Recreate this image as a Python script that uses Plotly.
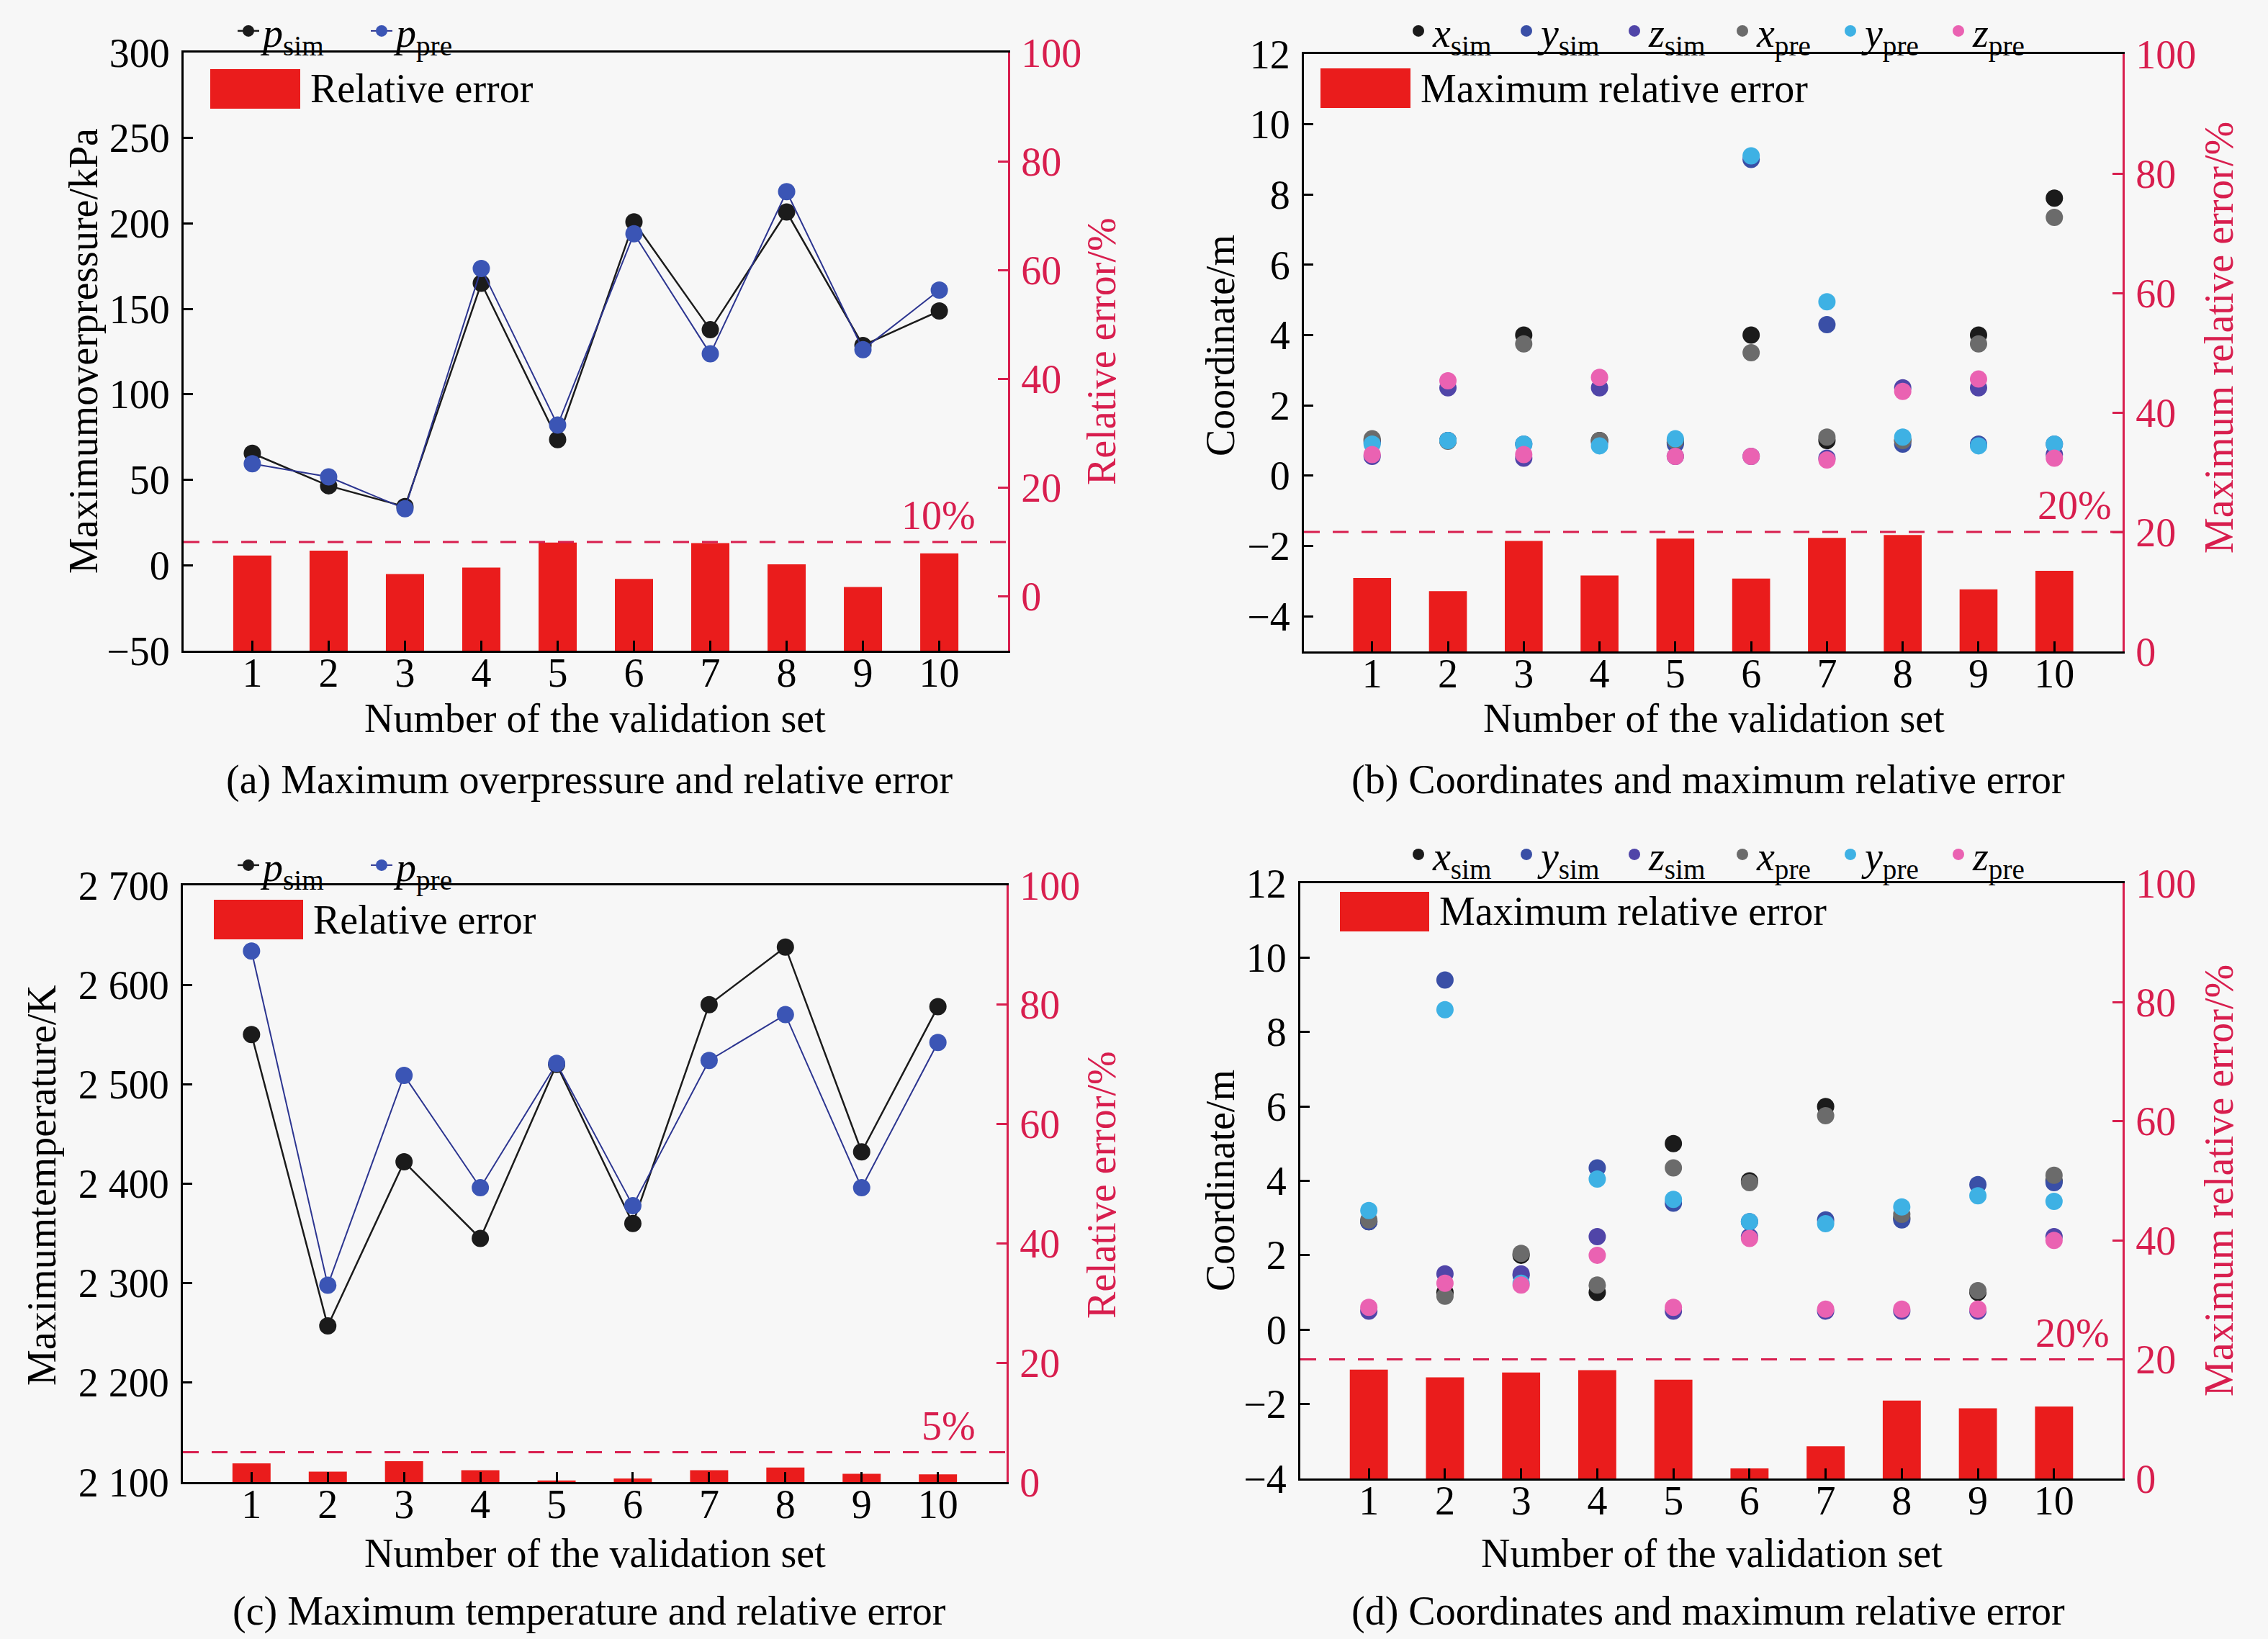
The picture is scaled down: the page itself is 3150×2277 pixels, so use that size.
import plotly.graph_objects as go

W, H = 3150, 2277
FONT = "Liberation Serif"
FS = 56
BG = "#f7f7f7"
RED = "#ea1c1c"
CRIMSON = "#d81e4e"

# ---------------- data ----------------
sets = list(range(1, 11))

# (a) maximum overpressure (kPa) and relative error (%)
p_sim_a = [65.5, 46.5, 34.3, 165.0, 73.5, 200.9, 137.8, 206.7, 128.6, 148.8]
p_pre_a = [59.4, 51.7, 33.1, 173.6, 82.0, 194.0, 123.7, 218.6, 126.2, 161.0]
err_a = [7.5, 8.4, 4.1, 5.3, 9.9, 3.2, 9.8, 5.9, 1.7, 7.9]
thr_a = 10

# (b) coordinates (m) and maximum relative error (%)
xsim_b = [1.0, 1.0, 4.0, 1.0, 0.95, 4.0, 1.0, 1.0, 4.0, 7.9]
ysim_b = [0.95, 1.0, 0.9, 0.95, 0.9, 9.0, 4.3, 0.9, 0.9, 0.9]
zsim_b = [0.55, 2.5, 0.5, 2.5, 0.55, 0.55, 0.5, 2.5, 2.5, 0.6]
xpre_b = [1.05, 0.98, 3.75, 1.0, 1.0, 3.5, 1.1, 1.0, 3.75, 7.35]
ypre_b = [0.9, 1.0, 0.9, 0.85, 1.05, 9.1, 4.95, 1.1, 0.85, 0.9]
zpre_b = [0.6, 2.7, 0.6, 2.8, 0.55, 0.55, 0.45, 2.4, 2.75, 0.5]
err_b = [12.3, 10.1, 18.5, 12.7, 18.9, 12.2, 19.0, 19.5, 10.4, 13.5]
thr_b = 20

# (c) maximum temperature (K) and relative error (%)
t_sim_c = [2550, 2257, 2422, 2345, 2520, 2360, 2580, 2638, 2432, 2578]
t_pre_c = [2634, 2298, 2509, 2396, 2521, 2378, 2524, 2570, 2396, 2542]
err_c = [3.15, 1.75, 3.5, 2.0, 0.26, 0.6, 2.0, 2.45, 1.4, 1.3]
thr_c = 5

# (d) coordinates (m) and maximum relative error (%)
xsim_d = [2.9, 1.0, 2.0, 1.0, 5.0, 4.0, 6.0, 3.0, 1.0, 4.0]
ysim_d = [2.9, 9.4, 1.45, 4.35, 3.4, 2.9, 2.95, 2.95, 3.9, 3.95]
zsim_d = [0.5, 1.5, 1.5, 2.5, 0.5, 2.5, 0.5, 0.5, 0.5, 2.5]
xpre_d = [2.95, 0.9, 2.05, 1.2, 4.35, 3.95, 5.75, 3.1, 1.05, 4.15]
ypre_d = [3.2, 8.6, 1.25, 4.05, 3.5, 2.9, 2.85, 3.3, 3.6, 3.45]
zpre_d = [0.6, 1.25, 1.2, 2.0, 0.6, 2.45, 0.55, 0.55, 0.55, 2.4]
err_d = [18.3, 17.0, 17.8, 18.2, 16.6, 1.7, 5.4, 13.1, 11.8, 12.1]
thr_d = 20

coord_names = ["<i>x</i><sub>sim</sub>", "<i>y</i><sub>sim</sub>", "<i>z</i><sub>sim</sub>",
               "<i>x</i><sub>pre</sub>", "<i>y</i><sub>pre</sub>", "<i>z</i><sub>pre</sub>"]
coord_colors = ["#1b1b1b", "#3a4fa6", "#5045a8", "#6b6b6b", "#3eb1e4", "#ea62b2"]

# ---------------- helpers ----------------
def px(x):
    return x / W


def py(y):
    return 1 - y / H

# panel pixel boxes: left, right, top, bottom
boxes = {
    "a": (255, 1400, 73, 904),
    "b": (1811, 2948, 75, 905),
    "c": (254, 1398, 1230, 2059),
    "d": (1806, 2948, 1227, 2054),
}

fig = go.Figure()

axis_font = dict(family=FONT, size=FS, color="black")
red_font = dict(family=FONT, size=FS, color=CRIMSON)

panel_axes = {"a": ("x", "y", "y2"), "b": ("x2", "y3", "y4"),
              "c": ("x3", "y5", "y6"), "d": ("x4", "y7", "y8")}
y2_min = {"a": -10, "b": 0, "c": 0, "d": 0}

# bars (drawn from the bottom of the right axis)
for key, err in (("a", err_a), ("b", err_b), ("c", err_c), ("d", err_d)):
    xa, ya, yb = panel_axes[key]
    base = y2_min[key]
    fig.add_trace(go.Bar(x=sets, y=[v - base for v in err], base=base, width=0.5,
                         marker=dict(color=RED, line=dict(width=0)),
                         xaxis=xa, yaxis=yb, showlegend=False))

# (a) lines
fig.add_trace(go.Scatter(x=sets, y=p_sim_a, mode="lines+markers", name="<i>p</i><sub>sim</sub>",
                         line=dict(color="#1b1b1b", width=2.5),
                         marker=dict(color="#1b1b1b", size=24), xaxis="x", yaxis="y", legend="legend"))
fig.add_trace(go.Scatter(x=sets, y=p_pre_a, mode="lines+markers", name="<i>p</i><sub>pre</sub>",
                         line=dict(color="#2c3590", width=2),
                         marker=dict(color="#3b55b5", size=24), xaxis="x", yaxis="y", legend="legend"))
# (c) lines
fig.add_trace(go.Scatter(x=sets, y=t_sim_c, mode="lines+markers", name="<i>p</i><sub>sim</sub>",
                         line=dict(color="#1b1b1b", width=2.5),
                         marker=dict(color="#1b1b1b", size=24), xaxis="x3", yaxis="y5", legend="legend3"))
fig.add_trace(go.Scatter(x=sets, y=t_pre_c, mode="lines+markers", name="<i>p</i><sub>pre</sub>",
                         line=dict(color="#2c3590", width=2),
                         marker=dict(color="#3b55b5", size=24), xaxis="x3", yaxis="y5", legend="legend3"))

# (b), (d) scatter
for series, xa, ya, lg in (((xsim_b, ysim_b, zsim_b, xpre_b, ypre_b, zpre_b), "x2", "y3", "legend2"),
                           ((xsim_d, ysim_d, zsim_d, xpre_d, ypre_d, zpre_d), "x4", "y7", "legend4")):
    for vals, name, col in zip(series, coord_names, coord_colors):
        fig.add_trace(go.Scatter(x=sets, y=vals, mode="markers", name=name,
                                 marker=dict(color=col, size=24),
                                 xaxis=xa, yaxis=ya, legend=lg))

layout = dict(
    width=W, height=H, margin=dict(l=0, r=0, t=0, b=0, autoexpand=False),
    paper_bgcolor=BG, plot_bgcolor=BG,
    font=dict(family=FONT, size=FS, color="black"),
    separators=". ",
    barmode="overlay",
)

left_ranges = {"a": [-50, 300], "b": [-5, 12], "c": [2100, 2700], "d": [-4, 12]}
left_dtick = {"a": 50, "b": 2, "c": 100, "d": 2}
left_tick0 = {"a": -50, "b": -4, "c": 2100, "d": -4}
right_ranges = {"a": [-10, 100], "b": [0, 100], "c": [0, 100], "d": [0, 100]}

for i, key in enumerate("abcd"):
    l, r, t, b = boxes[key]
    xa, ya, yb = panel_axes[key]
    xname = "xaxis" if xa == "x" else "xaxis" + xa[1:]
    yname = "yaxis" if ya == "y" else "yaxis" + ya[1:]
    y2name = "yaxis" + yb[1:]
    layout[xname] = dict(domain=[px(l), px(r)], anchor=ya, range=[0.1, 10.9], automargin=False,
                         tickvals=sets, ticks="inside", ticklen=14, tickwidth=2.5, tickcolor="black",
                         showline=True, linecolor="black", linewidth=3, mirror=True,
                         showgrid=False, zeroline=False, tickfont=axis_font, ticklabelstandoff=-20)
    layout[yname] = dict(domain=[py(b), py(t)], anchor=xa, range=left_ranges[key], automargin=False,
                         dtick=left_dtick[key], tick0=left_tick0[key], tickformat=",d",
                         ticks="inside", ticklen=13, tickwidth=2.5, tickcolor="black",
                         showline=True, linecolor="black", linewidth=3,
                         showgrid=False, zeroline=False, tickfont=axis_font, ticklabelstandoff=5)
    layout[y2name] = dict(overlaying=ya, anchor=xa, side="right", range=right_ranges[key], automargin=False,
                          tick0=0, dtick=20, ticks="inside", ticklen=14, tickwidth=2.5, tickcolor=CRIMSON,
                          showline=True, linecolor=CRIMSON, linewidth=3,
                          showgrid=False, zeroline=False, tickfont=red_font, ticklabelstandoff=4)

legend_common = dict(orientation="h", xanchor="left", yanchor="middle", bgcolor="rgba(0,0,0,0)",
                     font=dict(family=FONT, size=FS, color="black"), itemclick=False, tracegroupgap=0,
                     entrywidthmode="pixels")
layout["legend"] = dict(legend_common, x=px(325), y=py(43), entrywidth=140)
layout["legend3"] = dict(legend_common, x=px(325), y=py(1202), entrywidth=140)
layout["legend2"] = dict(legend_common, x=px(1950), y=py(43), entrywidth=105)
layout["legend4"] = dict(legend_common, x=px(1950), y=py(1187), entrywidth=105)

fig.update_layout(**layout)

# threshold dashed lines and labels
for key, thr, lab_x, lab in (("a", thr_a, 1357, "10%"), ("b", thr_b, 2935, "20%"),
                             ("c", thr_c, 1357, "5%"), ("d", thr_d, 2932, "20%")):
    xa, ya, yb = panel_axes[key]
    fig.add_shape(type="line", xref=xa + " domain", yref=yb, x0=0, x1=1, y0=thr, y1=thr,
                  line=dict(color=CRIMSON, width=3, dash="22px,18px"))
    fig.add_annotation(text=lab, xref="paper", yref=yb, x=px(lab_x), y=thr, xanchor="right",
                       yanchor="bottom", yshift=4, showarrow=False, font=red_font)

# bar legends (swatch + label)
bar_leg = {"a": (292, 417, 96, 151, "Relative error"),
           "b": (1834, 1959, 95, 150, "Maximum relative error"),
           "c": (297, 421, 1250, 1305, "Relative error"),
           "d": (1861, 1985, 1239, 1294, "Maximum relative error")}
for key, (x0, x1, y0, y1, txt) in bar_leg.items():
    fig.add_shape(type="rect", xref="paper", yref="paper", x0=px(x0), x1=px(x1), y0=py(y1), y1=py(y0),
                  fillcolor=RED, line=dict(width=0))
    fig.add_annotation(text=txt, xref="paper", yref="paper", x=px(x1 + 12), y=py((y0 + y1) / 2),
                       xanchor="left", yanchor="middle", showarrow=False, font=axis_font)

# axis titles, x titles and captions
ytitles = {"a": ("Maximumoverpressure/kPa", 116, 488, "Relative error/%", 1530, 488),
           "b": ("Coordinate/m", 1695, 480, "Maximum relative error/%", 3082, 469),
           "c": ("Maximumtemperature/K", 58, 1647, "Relative error/%", 1530, 1646),
           "d": ("Coordinate/m", 1695, 1640, "Maximum relative error/%", 3082, 1640)}
for key, (lt, lx, ly, rt, rx, ry) in ytitles.items():
    fig.add_annotation(text=lt, xref="paper", yref="paper", x=px(lx), y=py(ly), textangle=-90,
                       xanchor="center", yanchor="middle", showarrow=False, font=axis_font)
    fig.add_annotation(text=rt, xref="paper", yref="paper", x=px(rx), y=py(ry), textangle=-90,
                       xanchor="center", yanchor="middle", showarrow=False, font=red_font)

captions = {"a": (827, 998, 818, 1083, "(a) Maximum overpressure and relative error"),
            "b": (2380, 998, 2372, 1083, "(b) Coordinates and maximum relative error"),
            "c": (826, 2158, 818, 2238, "(c) Maximum temperature and relative error"),
            "d": (2377, 2158, 2372, 2238, "(d) Coordinates and maximum relative error")}
for key, (tx, ty, cx, cy, cap) in captions.items():
    fig.add_annotation(text="Number of the validation set", xref="paper", yref="paper",
                       x=px(tx), y=py(ty), xanchor="center", yanchor="middle",
                       showarrow=False, font=axis_font)
    fig.add_annotation(text=cap, xref="paper", yref="paper", x=px(cx), y=py(cy),
                       xanchor="center", yanchor="middle", showarrow=False, font=axis_font)

fig.write_html("out.html", config={"displayModeBar": False},
               post_script="document.body.style.margin='0';document.body.style.background='%s';" % BG)
